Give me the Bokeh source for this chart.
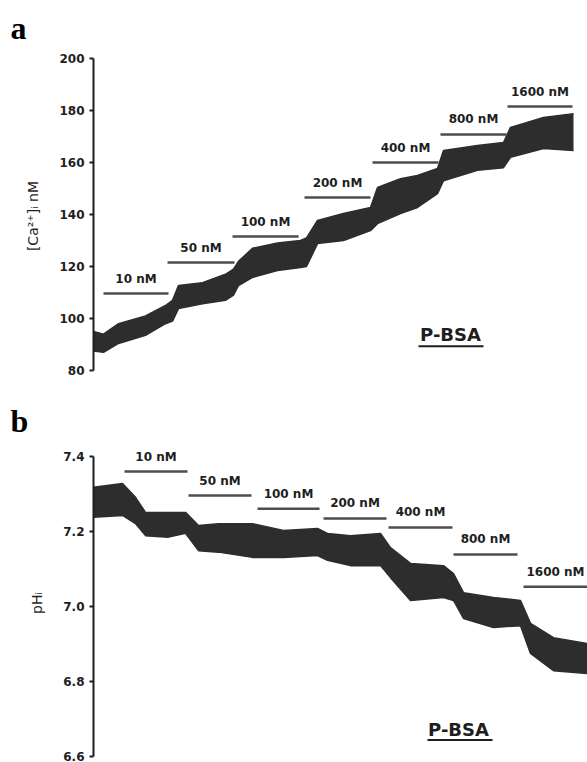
from bokeh.plotting import figure
from bokeh.layouts import column
from bokeh.models import Range1d, FixedTicker, PrintfTickFormatter
from bokeh.core.properties import value
from bokeh.embed import file_html
from bokeh.resources import INLINE

# ---------------- data ----------------
doses = ["10 nM", "50 nM", "100 nM", "200 nM", "400 nM", "800 nM", "1600 nM"]

# panel a: [Ca2+]i trace envelope (time in arbitrary units)
ca_time = [0, 10, 25, 52, 72, 79, 85, 109, 132, 140, 145, 159, 184, 207, 213,
           224, 250, 277, 284, 307, 324, 344, 350, 384, 410, 417, 450, 480]
ca_upper = [95, 94, 98, 101, 105, 107, 112.7, 113.8, 117, 119, 122, 127, 129, 130, 131,
            137.7, 140.4, 142.7, 150.4, 153.8, 155, 157.7, 164.6, 166.5, 167.7, 173.5, 177.3, 178.8]
ca_lower = [87.5, 87, 90.4, 93.5, 98, 99, 103.8, 105.7, 107, 109, 112.7, 115.8, 118.5, 119.6, 120,
            128.8, 130, 133.8, 136.5, 140.4, 142.7, 148, 153, 157, 158, 162, 165.4, 164.6]
ca_bar_start = [10, 74, 139, 211, 279, 347, 414]
ca_bar_end = [75, 141, 205, 277, 345, 413, 479]
ca_bar_level = [109.6, 121.5, 131.5, 146.5, 160, 170.8, 181.5]
ca_ticks = [80, 100, 120, 140, 160, 180, 200]

# panel b: pHi trace envelope
ph_time = [0, 29, 42, 52, 75, 92, 105, 125, 159, 190, 224, 234, 257, 287, 297, 317,
           350, 360, 370, 400, 427, 437, 460, 494]
ph_upper = [7.318, 7.328, 7.291, 7.251, 7.251, 7.251, 7.216, 7.221, 7.221, 7.203, 7.208, 7.195,
            7.189, 7.195, 7.157, 7.115, 7.109, 7.088, 7.037, 7.024, 7.016, 6.955, 6.917, 6.901]
ph_lower = [7.238, 7.243, 7.221, 7.189, 7.185, 7.195, 7.149, 7.145, 7.131, 7.131, 7.136, 7.123,
            7.109, 7.109, 7.077, 7.016, 7.024, 7.016, 6.968, 6.944, 6.949, 6.875, 6.829, 6.821]
ph_bar_start = [31, 95, 164, 230, 295, 360, 430]
ph_bar_end = [94, 158, 226, 293, 359, 424, 494]
ph_bar_level = [7.36, 7.296, 7.261, 7.235, 7.211, 7.139, 7.053]
ph_ticks = [6.6, 6.8, 7.0, 7.2, 7.4]

TRACE = "#2d2d2d"
BAR = "#4d4d4d"
INK = "#1e1e1e"
SANS = "DejaVu Sans"


def make_panel(letter, top_border, t, up, lo, bs, be, bl, ticks, y_lo, y_hi, y_bounds,
               ylabel, fmt, pbsa_x, pbsa_y, ul_x0, ul_x1, ul_y):
    p = figure(width=587, height=381, output_backend="svg", toolbar_location=None,
               x_range=Range1d(0, 494), y_range=Range1d(y_lo, y_hi),
               x_axis_location=None, min_border_left=93, min_border_right=0,
               min_border_top=top_border, min_border_bottom=0, outline_line_color=None,
               background_fill_color="white", border_fill_color="white")
    p.grid.visible = False

    # panel letter as the figure title, pushed to the left edge
    p.title.text = letter
    p.title.align = "left"
    p.title.offset = -83
    p.title.standoff = 10
    p.title.text_font = "Liberation Serif"
    p.title.text_font_style = "bold"
    p.title.text_font_size = "32px"
    p.title.text_color = "black"

    ax = p.yaxis[0]
    ax.bounds = y_bounds
    ax.ticker = FixedTicker(ticks=ticks)
    ax.formatter = PrintfTickFormatter(format=fmt)
    ax.minor_tick_line_color = None
    ax.major_tick_in = 0
    ax.major_tick_out = 4
    ax.major_tick_line_width = 2
    ax.major_tick_line_color = INK
    ax.axis_line_width = 2
    ax.axis_line_color = INK
    ax.major_label_text_font = SANS
    ax.major_label_text_font_style = "bold"
    ax.major_label_text_font_size = "12px"
    ax.major_label_text_color = INK
    ax.major_label_standoff = 5
    ax.axis_label = ylabel
    ax.axis_label_text_font = SANS
    ax.axis_label_text_font_style = "normal"
    ax.axis_label_text_font_size = "14px"
    ax.axis_label_text_color = INK
    ax.axis_label_standoff = 15

    p.varea(x=t, y1=lo, y2=up, fill_color=TRACE, fill_alpha=1.0)
    p.line(x=t, y=up, line_color=TRACE, line_width=1.5)
    p.line(x=t, y=lo, line_color=TRACE, line_width=1.5)

    p.segment(x0=bs, y0=bl, x1=be, y1=bl, line_color=BAR, line_width=2.5)
    mids = [(a + b) / 2 for a, b in zip(bs, be)]
    p.text(x=mids, y=bl, text=doses, text_font=value(SANS), text_font_style="bold",
           text_font_size="12px", text_color=INK, text_align="center",
           text_baseline="alphabetic", y_offset=-15)

    p.text(x=[pbsa_x], y=[pbsa_y], text=["P-BSA"], text_font=value(SANS),
           text_font_style="bold", text_font_size="18px", text_color=INK,
           text_align="center", text_baseline="alphabetic")
    p.segment(x0=[ul_x0], y0=[ul_y], x1=[ul_x1], y1=[ul_y], line_color=INK, line_width=2)
    return p


# panel a: frame top at 50 px, 2.6 px per nM, 200 nM at 58 px, 80 nM at 370 px
pa = make_panel("a", 50, ca_time, ca_upper, ca_lower, ca_bar_start, ca_bar_end, ca_bar_level,
                ca_ticks, 75.77, 203.08, (80, 200), "[Ca²⁺]ᵢ nM", "%d",
                357, 93.7, 325, 390, 89.3)
# panel b: frame top at 62 px, 375 px per pH unit, 7.4 at 75 px
pb = make_panel("b", 62, ph_time, ph_upper, ph_lower, ph_bar_start, ph_bar_end, ph_bar_level,
                ph_ticks, 6.584, 7.4347, (6.6, 7.4), "pHᵢ", "%.1f",
                365, 6.673, 334, 399, 6.644)

layout = column(pa, pb, spacing=0)
open("out.html", "w").write(file_html(layout, INLINE))
